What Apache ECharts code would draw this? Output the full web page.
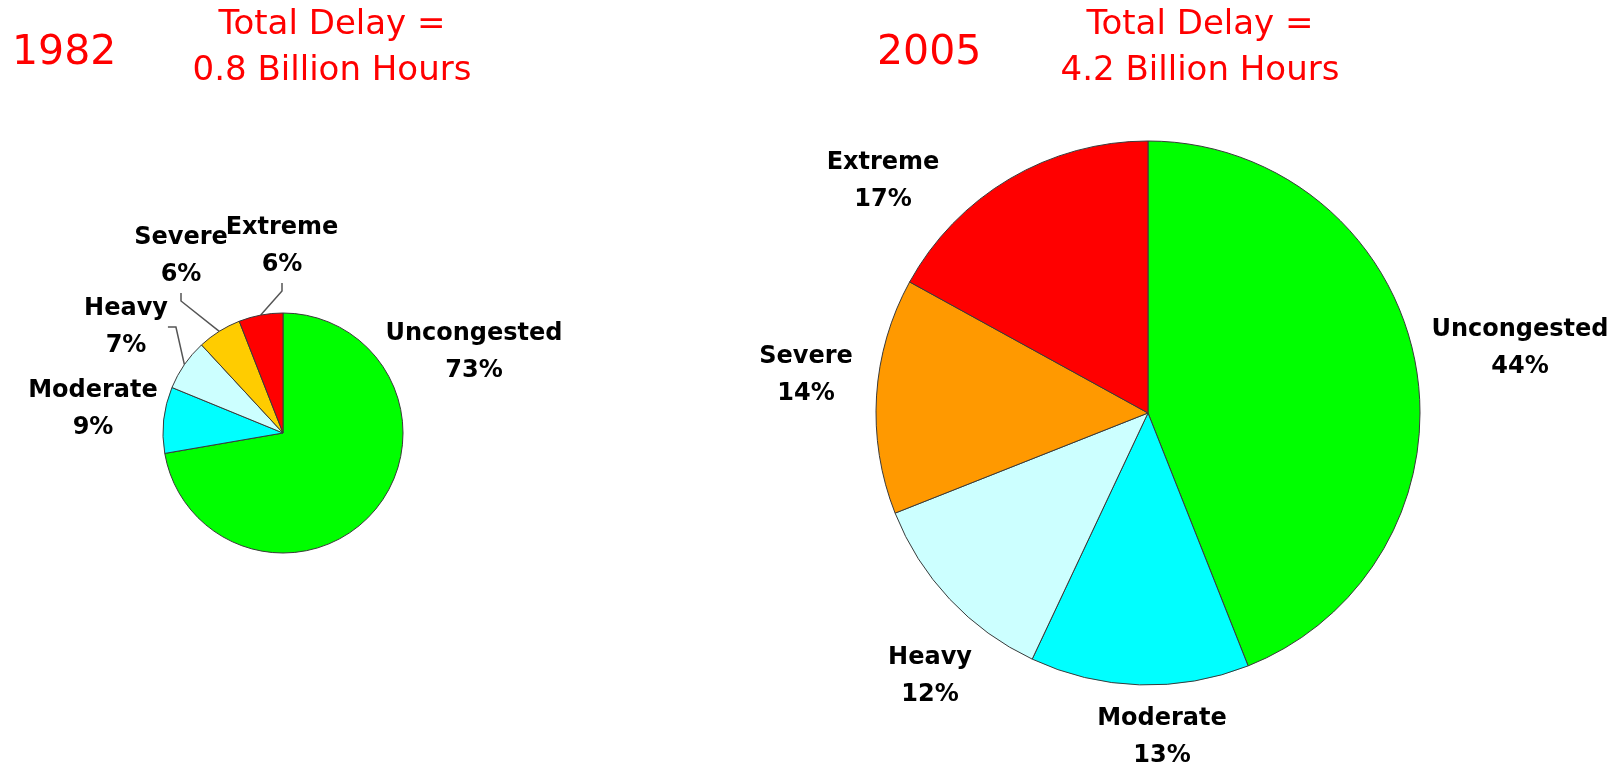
<!DOCTYPE html>
<html><head><meta charset="utf-8">
<script src="https://cdn.jsdelivr.net/npm/echarts@6/dist/echarts.min.js"></script>
<style>html,body{margin:0;padding:0;background:#fff}#c{width:1624px;height:767px}</style>
</head><body><div id="c"></div>
<script>
// ---- data ----
const categories = ['Uncongested', 'Moderate', 'Heavy', 'Severe', 'Extreme'];
const values1982 = [73, 9, 7, 6, 6];
const values2005 = [44, 13, 12, 14, 17];
const years = ['1982', '2005'];
const totalDelay = ['0.8', '4.2'];

// ---- styles / layout ----
const colors1982 = ['#00FF00', '#00FFFF', '#CCFFFF', '#FFCC00', '#FF0000'];
const colors2005 = ['#00FF00', '#00FFFF', '#CCFFFF', '#FF9900', '#FF0000'];
const leader1982 = [false, false, true, true, true];
const labelPos1982 = [[474, 352], [93, 409], [126, 327], [181, 256], [282, 246]];
const labelPos2005 = [[1520, 348], [1162, 737], [930, 676], [806, 375], [883, 181]];

const FONT = 'DejaVu Sans';
const titleStyle = {color: '#FF0000', fontFamily: FONT, fontWeight: 'normal', fontSize: 34, lineHeight: 46};
const yearStyle = {color: '#FF0000', fontFamily: FONT, fontWeight: 'normal', fontSize: 41, lineHeight: 50};

function buildData(values, colors, leaders) {
  return categories.map((c, i) => ({
    name: c,
    value: values[i],
    itemStyle: {color: colors[i]},
    labelLine: {show: leaders ? leaders[i] : false}
  }));
}

function pieSeries(values, colors, leaders, center, radius, labelPos) {
  return {
    type: 'pie',
    center: center,
    radius: radius,
    startAngle: 90,
    clockwise: true,
    avoidLabelOverlap: false,
    animation: false,
    data: buildData(values, colors, leaders),
    itemStyle: {borderColor: '#3a3a3a', borderWidth: 1},
    label: {
      show: true,
      position: 'outside',
      formatter: '{b}\n{c}%',
      color: '#000',
      fontFamily: FONT,
      fontWeight: 'bold',
      fontSize: 24,
      lineHeight: 37
    },
    labelLine: {
      show: false,
      length: 8,
      length2: 8,
      lineStyle: {color: '#555', width: 1.5}
    },
    emphasis: {disabled: true},
    labelLayout: function (p) {
      const pos = labelPos[p.dataIndex];
      return {x: pos[0], y: pos[1], align: 'center', verticalAlign: 'middle'};
    }
  };
}

const chart = echarts.init(document.getElementById('c'), null, {renderer: 'canvas'});
chart.setOption({
  backgroundColor: '#ffffff',
  animation: false,
  title: [
    {text: years[0], left: 12, top: 28, padding: 0, textStyle: yearStyle},
    {text: 'Total Delay =\n' + totalDelay[0] + ' Billion Hours', left: 332, top: 2, padding: 0, textAlign: 'center', textStyle: titleStyle},
    {text: years[1], left: 877, top: 28, padding: 0, textStyle: yearStyle},
    {text: 'Total Delay =\n' + totalDelay[1] + ' Billion Hours', left: 1200, top: 2, padding: 0, textAlign: 'center', textStyle: titleStyle}
  ],
  series: [
    pieSeries(values1982, colors1982, leader1982, [283, 433], 120, labelPos1982),
    pieSeries(values2005, colors2005, null, [1148, 413], 272, labelPos2005)
  ]
});
</script>
</body></html>
